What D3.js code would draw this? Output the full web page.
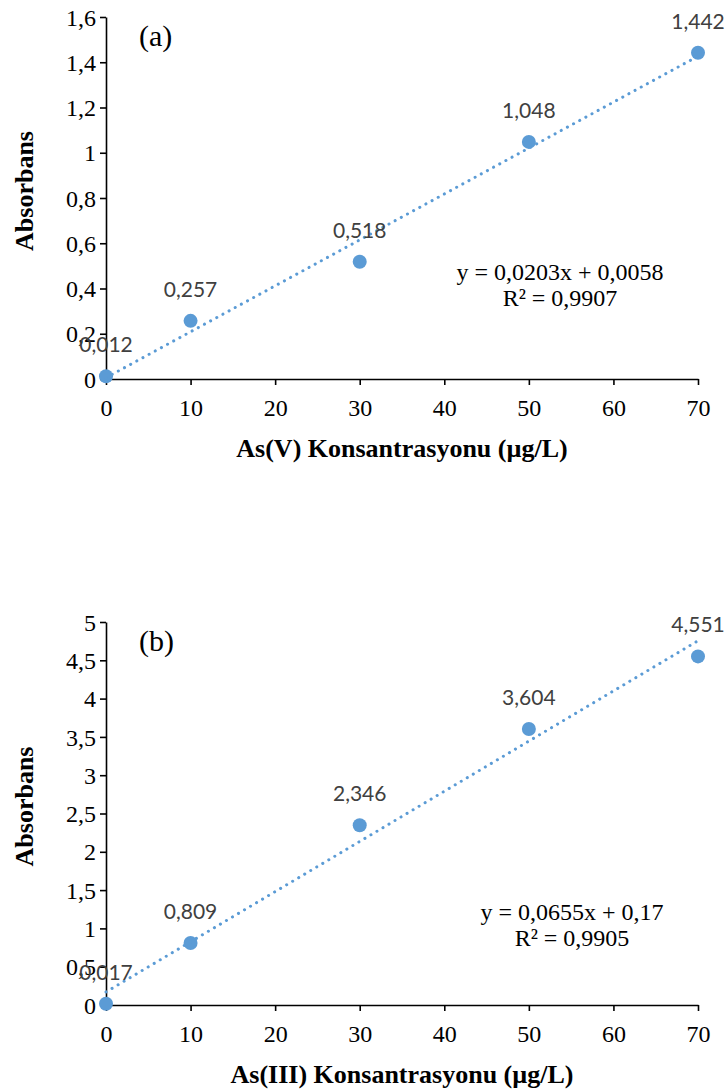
<!DOCTYPE html>
<html>
<head>
<meta charset="utf-8">
<script src="https://cdn.jsdelivr.net/npm/d3@7"></script>
<style>
  html, body { margin: 0; padding: 0; background: #fff; }
  svg { display: block; }
</style>
</head>
<body>
<svg id="chart" width="726" height="1092"></svg>
<script>
// Calibration data: concentration (µg/L) vs absorbance
const concentration = [0, 10, 30, 50, 70];
const absorbanceAsV = [0.012, 0.257, 0.518, 1.048, 1.442];
const absorbanceAsIII = [0.017, 0.809, 2.346, 3.604, 4.551];

// Axis ticks
const xTickValues = [0, 10, 20, 30, 40, 50, 60, 70];
const yTicksAsV = [0, 0.2, 0.4, 0.6, 0.8, 1.0, 1.2, 1.4, 1.6];
const yTicksAsIII = [0, 0.5, 1, 1.5, 2, 2.5, 3, 3.5, 4, 4.5, 5];

// Linear fits
const fitAsV = { slope: 0.0203, intercept: 0.0058, r2: 0.9907 };
const fitAsIII = { slope: 0.0655, intercept: 0.17, r2: 0.9905 };

const panelLabels = ["(a)", "(b)"];
const xTitles = ["As(V) Konsantrasyonu (µg/L)", "As(III) Konsantrasyonu (µg/L)"];
const yTitle = "Absorbans";

// Comma as decimal separator
const comma = s => String(s).replace(".", ",");
const fmtTick = d => comma(+d.toFixed(1));
const fmt3 = d => comma(d.toFixed(3));

const svg = d3.select("#chart");
const BLUE = "#5B9BD5";
const SERIF = "'Liberation Serif', 'Times New Roman', serif";
const SANS = "Lato, Carlito, Calibri, sans-serif";

function drawPanel(cfg) {
  const g = svg.append("g");
  const x = d3.scaleLinear().domain([0, 70]).range([106, 698]);
  const y = d3.scaleLinear().domain(cfg.yDomain).range([cfg.yBottom, cfg.yTop]);

  // y axis
  const yAxis = d3.axisLeft(y).tickValues(cfg.yTicks).tickFormat(fmtTick)
    .tickSizeInner(6).tickSizeOuter(0).tickPadding(4);
  const ga = g.append("g").attr("transform", `translate(${x(0)},0)`).call(yAxis);
  ga.select(".domain").attr("stroke", "#000").attr("stroke-width", 1.6);
  ga.selectAll(".tick line").attr("stroke", "#000").attr("stroke-width", 1.6);
  ga.selectAll(".tick text").attr("font-family", SERIF).attr("font-size", 24)
    .attr("fill", "#000").attr("dy", "0.34em");

  // x axis
  const xAxis = d3.axisBottom(x).tickValues(xTickValues).tickFormat(d => d)
    .tickSizeInner(6).tickSizeOuter(0).tickPadding(14);
  const gx = g.append("g").attr("transform", `translate(0,${cfg.yBottom})`).call(xAxis);
  gx.select(".domain").attr("stroke", "#000").attr("stroke-width", 1.6);
  gx.selectAll(".tick line").attr("stroke", "#000").attr("stroke-width", 1.6);
  gx.selectAll(".tick text").attr("font-family", SERIF).attr("font-size", 24)
    .attr("fill", "#000");

  // markers
  g.append("g").selectAll("circle")
    .data(concentration.map((c, i) => [c, cfg.values[i]]))
    .join("circle")
    .attr("cx", d => x(d[0])).attr("cy", d => y(d[1])).attr("r", 7)
    .attr("fill", BLUE);

  // dotted trend line
  const xs = [0, 70];
  g.append("line")
    .attr("x1", x(xs[0])).attr("y1", y(cfg.fit.slope * xs[0] + cfg.fit.intercept))
    .attr("x2", x(xs[1])).attr("y2", y(cfg.fit.slope * xs[1] + cfg.fit.intercept))
    .attr("stroke", BLUE).attr("stroke-width", 3)
    .attr("stroke-linecap", "round").attr("stroke-dasharray", "0.1 6.9");

  // data labels
  g.append("g").selectAll("text")
    .data(concentration.map((c, i) => [c, cfg.values[i]]))
    .join("text")
    .attr("x", d => x(d[0])).attr("y", d => y(d[1]) - 24)
    .attr("text-anchor", "middle").attr("font-family", SANS)
    .attr("font-size", 21).attr("fill", "#404040")
    .text(d => fmt3(d[1]));

  // equation + R²
  const eq = g.append("g").attr("font-family", SERIF).attr("font-size", 24)
    .attr("fill", "#000").attr("text-anchor", "middle");
  eq.append("text").attr("x", cfg.eqX).attr("y", cfg.eqY)
    .text(`y = ${comma(cfg.fit.slope)}x + ${comma(cfg.fit.intercept)}`);
  eq.append("text").attr("x", cfg.eqX).attr("y", cfg.eqY + 26)
    .text(`R² = ${comma(cfg.fit.r2)}`);

  // panel label
  g.append("text").attr("x", 139).attr("y", cfg.yTop + 29)
    .attr("font-family", SERIF).attr("font-size", 30).attr("fill", "#000")
    .text(cfg.label);

  // axis titles
  g.append("text").attr("x", 402).attr("y", cfg.yBottom + 78)
    .attr("text-anchor", "middle").attr("font-family", SERIF)
    .attr("font-weight", "bold").attr("font-size", 26).attr("fill", "#000")
    .text(cfg.xTitle);
  g.append("text")
    .attr("transform", `translate(33,${(cfg.yTop + cfg.yBottom) / 2 - 7}) rotate(-90)`)
    .attr("text-anchor", "middle").attr("font-family", SERIF)
    .attr("font-weight", "bold").attr("font-size", 26).attr("fill", "#000")
    .text(yTitle);
}

drawPanel({
  yDomain: [0, 1.6], yTicks: yTicksAsV, yTop: 17, yBottom: 379,
  values: absorbanceAsV, fit: fitAsV, eqX: 560, eqY: 280,
  label: panelLabels[0], xTitle: xTitles[0]
});
drawPanel({
  yDomain: [0, 5], yTicks: yTicksAsIII, yTop: 622, yBottom: 1005,
  values: absorbanceAsIII, fit: fitAsIII, eqX: 572, eqY: 920,
  label: panelLabels[1], xTitle: xTitles[1]
});
</script>
</body>
</html>
